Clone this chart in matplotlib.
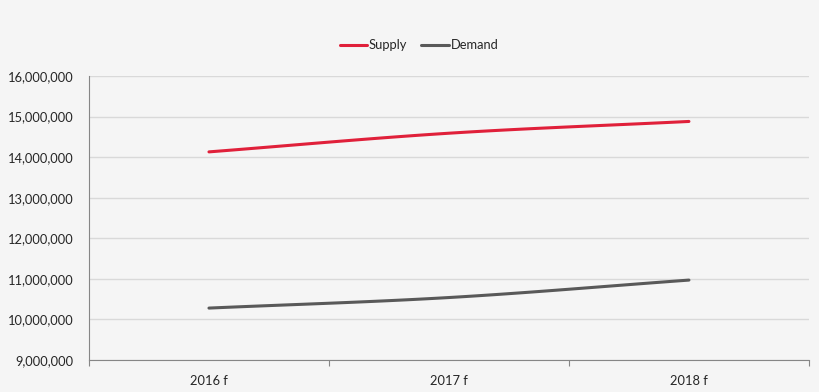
import numpy as np
import matplotlib
matplotlib.use("Agg")
import matplotlib.pyplot as plt
from matplotlib.ticker import FuncFormatter, FixedLocator

categories = ["2016 f", "2017 f", "2018 f"]
supply = [14130000, 14590000, 14880000]
demand = [10280000, 10540000, 10970000]

plt.rcParams['font.family'] = ['Lato', 'DejaVu Sans']

def smooth(x, y, n=30):
    # Catmull-Rom style smoothing through the data points (display only)
    x = np.asarray(x, float); y = np.asarray(y, float)
    px = np.concatenate([[2*x[0]-x[1]], x, [2*x[-1]-x[-2]]])
    py = np.concatenate([[2*y[0]-y[1]], y, [2*y[-1]-y[-2]]])
    xs, ys = [], []
    for i in range(1, len(px)-2):
        t = np.linspace(0, 1, n)
        for arr, out in ((px, xs), (py, ys)):
            p0, p1, p2, p3 = arr[i-1], arr[i], arr[i+1], arr[i+2]
            out.extend(0.5*((2*p1) + (-p0+p2)*t + (2*p0-5*p1+4*p2-p3)*t**2 + (-p0+3*p1-3*p2+p3)*t**3))
    return np.array(xs), np.array(ys)

bg = "#f5f5f5"
fig = plt.figure(figsize=(8.2, 3.92), dpi=100, facecolor=bg)
ax = fig.add_axes([0.1085, 0.0816, 0.878, 0.7245], facecolor=bg)

x = np.arange(len(categories))
sx, sy = smooth(x, supply)
dx, dy = smooth(x, demand)
ax.plot(sx, sy, color="#e0203a", lw=2.2, solid_capstyle="round", label="Supply", zorder=3)
ax.plot(dx, dy, color="#595959", lw=2.2, solid_capstyle="round", label="Demand", zorder=3)

ax.set_xlim(-0.5, len(categories)-0.5)
ax.set_ylim(9000000, 16000000)
ax.set_yticks(np.arange(9000000, 16000001, 1000000))
ax.yaxis.set_major_formatter(FuncFormatter(lambda v, p: f"{int(v):,}"))
ax.set_xticks(x)
ax.set_xticklabels(categories)
ax.xaxis.set_minor_locator(FixedLocator(np.arange(-0.5, len(categories), 1.0)))
ax.tick_params(axis='x', which='major', length=0, pad=11, labelsize=9.3, colors="#262626")
ax.tick_params(axis='x', which='minor', length=4, color="#868686", width=0.8)
ax.tick_params(axis='y', length=0, pad=11, labelsize=9.3, labelcolor="#262626")

ax.grid(axis='y', color="#d9d9d9", lw=1)
ax.set_axisbelow(True)
for s in ["top", "right"]:
    ax.spines[s].set_visible(False)
for s in ["left", "bottom"]:
    ax.spines[s].set_color("#868686")
    ax.spines[s].set_linewidth(0.8)

leg = fig.legend(loc="center", bbox_to_anchor=(0.511, 0.884), ncol=2, frameon=False,
                 fontsize=9.3, handlelength=2.1, handletextpad=0.15, columnspacing=1.1)
for t in leg.get_texts():
    t.set_color("#262626")

fig.savefig("out.png", dpi=100, facecolor=bg)
